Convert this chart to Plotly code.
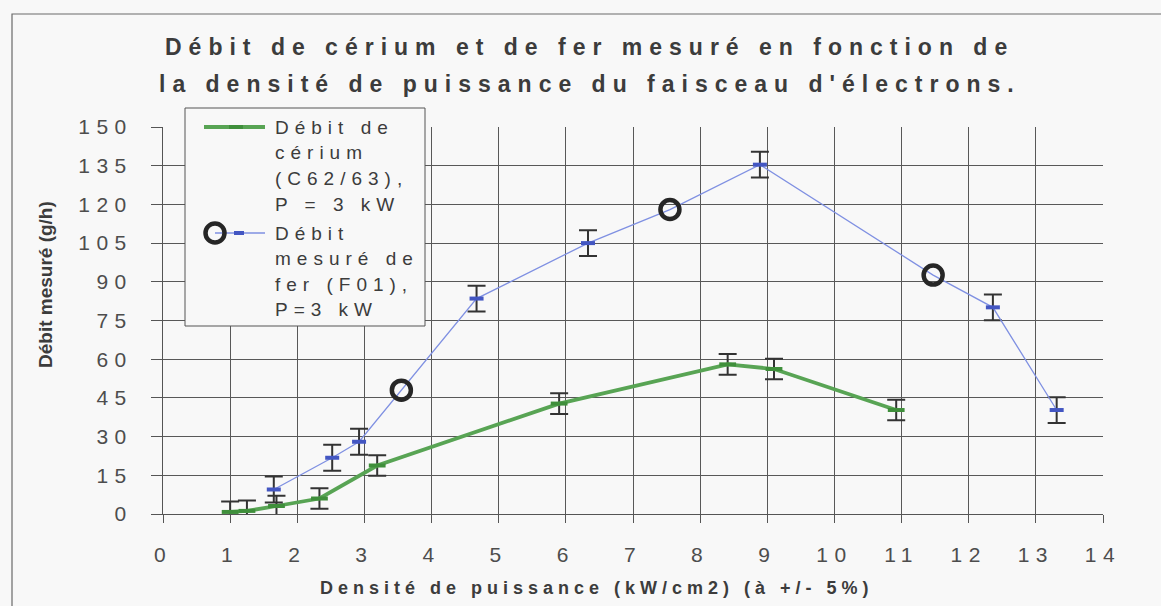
import json
import plotly.graph_objects as go

# ---------------- data ----------------
ce_x = [1.0, 1.25, 1.69, 2.33, 3.19, 5.9, 8.41, 9.1, 10.92]
ce_y = [0.8, 1.2, 3.1, 6.0, 18.8, 42.8, 58.0, 56.2, 40.3]
ce_err = [4, 4, 4, 4, 4, 4, 4, 4, 4]

fe_x = [1.65, 2.52, 2.92, 3.55, 4.67, 6.33, 7.55, 8.89, 11.47, 12.36, 13.31]
fe_y = [9.5, 21.8, 28.0, 48.0, 83.5, 105.0, 118.0, 135.4, 92.6, 80.1, 40.3]
fe_err = [5, 5, 5, None, 5, 5, None, 5, None, 5, 5]

x_ticks = list(range(0, 15))
y_ticks = [0, 15, 30, 45, 60, 75, 90, 105, 120, 135, 150]

title_lines = ["Débit de cérium et de fer mesuré en fonction de",
               "la densité de puissance du faisceau d'électrons."]
x_title = "Densité de puissance (kW/cm2) (à +/- 5%)"
y_title = "Débit mesuré (g/h)"
legend_ce = ["Débit de", "cérium", "(C62/63),", "P = 3 kW"]
legend_fe = ["Débit", "mesuré de", "fer (F01),", "P=3 kW"]

# ---------------- geometry helpers (pixel -> paper) ----------------
W, H = 1161, 606
ML, MR, MT, MB = 163, 58, 127, 92
PW, PH = W - ML - MR, H - MT - MB


def X(px):
    return (px - ML) / PW


def Y(py):
    return (H - MB - py) / PH


FONT = "Liberation Sans, Arial, sans-serif"
TXT = "#3c3c3c"
GREEN = "#58a454"
GREEN_D = "#3f8f3b"
BLUE_L = "#7f90e2"
BLUE_D = "#4356c2"
ERR = "#333333"
CIRC = "#262626"

fig = go.Figure()

# cerium series
fig.add_trace(go.Scatter(
    x=ce_x, y=ce_y, mode="lines+markers",
    line=dict(color=GREEN, width=3.8),
    marker=dict(symbol="line-ew", size=12, color=GREEN_D,
                line=dict(color=GREEN_D, width=4)),
    error_y=dict(type="data", array=ce_err, visible=True,
                 color=ERR, thickness=2, width=9),
    hoverinfo="x+y",
))

# iron series
idx = [i for i, e in enumerate(fe_err) if e is not None]
cidx = [i for i, e in enumerate(fe_err) if e is None]

# error bars + dash markers (points that carry an error bar)
fig.add_trace(go.Scatter(
    x=[fe_x[i] for i in idx], y=[fe_y[i] for i in idx], mode="markers",
    marker=dict(size=1, opacity=0),
    error_y=dict(type="data", array=[fe_err[i] for i in idx], visible=True,
                 color=ERR, thickness=2, width=9),
    hoverinfo="skip",
))
# connecting line
fig.add_trace(go.Scatter(
    x=fe_x, y=fe_y, mode="lines",
    line=dict(color=BLUE_L, width=1.3),
    hoverinfo="x+y",
))
fig.add_trace(go.Scatter(
    x=[fe_x[i] for i in idx], y=[fe_y[i] for i in idx], mode="markers",
    marker=dict(symbol="line-ew", size=10, color=BLUE_D,
                line=dict(color=BLUE_D, width=4)),
    hoverinfo="skip",
))
# circled points
fig.add_trace(go.Scatter(
    x=[fe_x[i] for i in cidx], y=[fe_y[i] for i in cidx], mode="markers",
    marker=dict(symbol="circle", size=19, color="rgba(0,0,0,0)",
                line=dict(color=CIRC, width=4.5)),
    hoverinfo="x+y",
))

# ---------------- annotations ----------------
annotations = []
spacing = {}


def add_ann(text, x, y, size, bold=False, xanchor="left", align="left",
            sp=None, angle=0, color=TXT):
    if sp is not None:
        spacing[str(len(annotations))] = sp
    annotations.append(dict(
        text=("<b>%s</b>" % text) if bold else text,
        x=x, y=y, xref="paper", yref="paper",
        xanchor=xanchor, yanchor="middle", align=align,
        showarrow=False, textangle=angle,
        font=dict(family=FONT, size=size, color=color),
    ))


add_ann(title_lines[0], X(163), Y(47), 23, bold=True, sp=7.0)
add_ann(title_lines[1], X(157), Y(84), 23, bold=True, sp=7.0)
add_ann(x_title, X(318), Y(588), 18, bold=True, sp=5)
add_ann(y_title, X(45), Y(285), 19, bold=True, xanchor="center",
        align="center", angle=-90)

leg_y = [127, 152.5, 178, 204, 233, 258.5, 284, 309.5]
for t, yy in zip(legend_ce + legend_fe, leg_y):
    add_ann(t, X(273), Y(yy), 19, sp=6.0)

# ---------------- shapes ----------------
shapes = []
# outer chart border
shapes.append(dict(type="rect", xref="paper", yref="paper",
                   x0=X(12), x1=X(1180), y0=Y(14), y1=Y(640),
                   line=dict(color="#6a6a6a", width=1.2),
                   fillcolor="rgba(0,0,0,0)", layer="above"))
# legend box
shapes.append(dict(type="rect", xref="paper", yref="paper",
                   x0=X(185), x1=X(425), y0=Y(108), y1=Y(326),
                   line=dict(color="#555555", width=1),
                   fillcolor="#f8f8f8", layer="above"))
# legend swatch: cerium
shapes.append(dict(type="line", xref="paper", yref="paper",
                   x0=X(204), x1=X(265), y0=Y(127), y1=Y(127),
                   line=dict(color=GREEN, width=3.8), layer="above"))
shapes.append(dict(type="line", xref="paper", yref="paper",
                   xsizemode="pixel", xanchor=X(236), x0=-7, x1=7,
                   y0=Y(127), y1=Y(127),
                   line=dict(color=GREEN_D, width=4), layer="above"))
# legend swatch: iron
shapes.append(dict(type="line", xref="paper", yref="paper",
                   x0=X(215), x1=X(265), y0=Y(233), y1=Y(233),
                   line=dict(color=BLUE_L, width=1.3), layer="above"))
shapes.append(dict(type="line", xref="paper", yref="paper",
                   xsizemode="pixel", xanchor=X(239), x0=-5, x1=5,
                   y0=Y(233), y1=Y(233),
                   line=dict(color=BLUE_D, width=4), layer="above"))
shapes.append(dict(type="circle", xref="paper", yref="paper",
                   xsizemode="pixel", xanchor=X(215), x0=-9.5, x1=9.5,
                   ysizemode="pixel", yanchor=Y(233), y0=-9.5, y1=9.5,
                   line=dict(color=CIRC, width=4.5),
                   fillcolor="rgba(0,0,0,0)", layer="above"))

BG = "#f8f8f8"
fig.update_layout(
    width=W, height=H, autosize=False,
    margin=dict(l=ML, r=MR, t=MT, b=MB, pad=0),
    paper_bgcolor=BG, plot_bgcolor=BG,
    showlegend=False,
    annotations=annotations, shapes=shapes,
    font=dict(family=FONT, color=TXT),
)
fig.update_xaxes(
    range=[0, 14], tickmode="array", tickvals=x_ticks,
    ticktext=[str(v) for v in x_ticks],
    showgrid=True, gridcolor="#585858", gridwidth=1,
    showline=True, linecolor="#555555", linewidth=1,
    ticks="outside", ticklen=8, tickcolor="#555555",
    ticklabelstandoff=14,
    tickfont=dict(family=FONT, size=21, color="#4d4d4d"),
    zeroline=False, fixedrange=True,
)
fig.update_yaxes(
    range=[0, 150], tickmode="array", tickvals=y_ticks,
    ticktext=[str(v) for v in y_ticks],
    showgrid=True, gridcolor="#585858", gridwidth=1,
    showline=True, linecolor="#555555", linewidth=1,
    ticks="outside", ticklen=11, tickcolor="#555555",
    ticklabelstandoff=14,
    tickfont=dict(family=FONT, size=21, color="#4d4d4d"),
    zeroline=False, fixedrange=True,
)

post = (
    "document.documentElement.style.margin='0';"
    "document.body.style.margin='0';document.body.style.overflow='hidden';"
    "var gd=document.getElementById('{plot_id}');"
    "var sp=" + json.dumps(spacing) + ";"
    "gd.querySelectorAll('g.annotation').forEach(function(g){"
    " var i=g.getAttribute('data-index');"
    " if(sp[i]!==undefined){g.querySelectorAll('text').forEach(function(t){"
    "  t.style.letterSpacing=sp[i]+'px';});}});"
    "gd.querySelectorAll('.xtick text, .ytick text').forEach(function(t){"
    " t.style.letterSpacing='6.5px';});"
)

fig.write_html("out.html", post_script=post, config={"displayModeBar": False})
